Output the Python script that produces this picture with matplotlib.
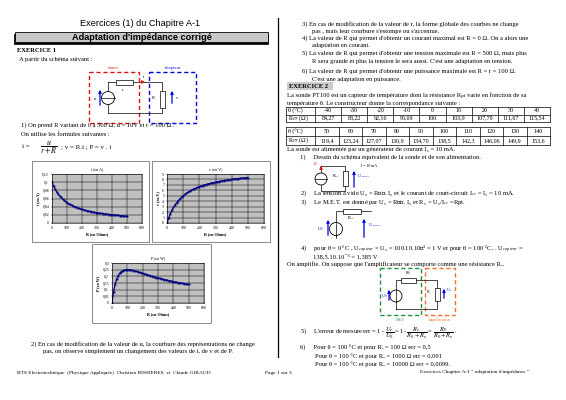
import numpy as np
import matplotlib.pyplot as plt
from matplotlib.patches import Rectangle, Circle

plt.rcParams['font.family'] = ['Liberation Serif', 'DejaVu Serif']
plt.rcParams['mathtext.fontset'] = 'stix'

# data (R step 10 ohms)
R_ohm = [0, 10, 20, 30, 40, 50, 60, 70, 80, 90, 100, 110, 120, 130, 140, 150, 160, 170, 180, 190,
         200, 210, 220, 230, 240, 250, 260, 270, 280, 290, 300, 310, 320, 330, 340, 350, 360, 370,
         380, 390, 400, 410, 420, 430, 440, 450, 460, 470, 480, 490, 500]
i_amp = [0.1, 0.0909, 0.0833, 0.0769, 0.0714, 0.0667, 0.0625, 0.0588, 0.0556, 0.0526, 0.05,
         0.0476, 0.0455, 0.0435, 0.0417, 0.04, 0.0385, 0.037, 0.0357, 0.0345, 0.0333, 0.0323,
         0.0313, 0.0303, 0.0294, 0.0286, 0.0278, 0.027, 0.0263, 0.0256, 0.025, 0.0244, 0.0238,
         0.0233, 0.0227, 0.0222, 0.0217, 0.0213, 0.0208, 0.0204, 0.02, 0.0196, 0.0192, 0.0189,
         0.0185, 0.0182, 0.0179, 0.0175, 0.0172, 0.0169, 0.0167]
v_volt = [0, 0.909, 1.667, 2.308, 2.857, 3.333, 3.75, 4.118, 4.444, 4.737, 5.0, 5.238, 5.455,
          5.652, 5.833, 6.0, 6.154, 6.296, 6.429, 6.552, 6.667, 6.774, 6.875, 6.97, 7.059, 7.143,
          7.222, 7.297, 7.368, 7.436, 7.5, 7.561, 7.619, 7.674, 7.727, 7.778, 7.826, 7.872, 7.917,
          7.959, 8.0, 8.039, 8.077, 8.113, 8.148, 8.182, 8.214, 8.246, 8.276, 8.305, 8.333]
p_watt = [0, 0.0826, 0.1389, 0.1775, 0.2041, 0.2222, 0.2344, 0.2422, 0.2469, 0.2493, 0.25,
          0.2494, 0.2479, 0.2457, 0.2431, 0.24, 0.2367, 0.2332, 0.2296, 0.2259, 0.2222, 0.2185,
          0.2148, 0.2112, 0.2076, 0.2041, 0.2006, 0.1972, 0.1939, 0.1907, 0.1875, 0.1844, 0.1814,
          0.1785, 0.1756, 0.1728, 0.1701, 0.1675, 0.1649, 0.1624, 0.16, 0.1576, 0.1553, 0.1531,
          0.1509, 0.1488, 0.1467, 0.1447, 0.1427, 0.1408, 0.1389]

# PT100 tables
theta1 = ['-40', '-30', '-20', '-10', '0', '10', '20', '30', '40']
rpt1 = ['84,27', '88,22', '92,16', '96,09', '100', '103,9', '107,79', '111,67', '115,54']
theta2 = ['50', '60', '70', '80', '90', '100', '110', '120', '130', '140']
rpt2 = ['119,4', '123,24', '127,07', '130,9', '134,70', '138,5', '142,3', '146,06', '149,9', '153,6']

W, H = 566, 400
fig = plt.figure(figsize=(5.66, 4), dpi=100)
ax = fig.add_axes([0, 0, 1, 1])
ax.set_xlim(0, W)
ax.set_ylim(H, 0)
ax.axis('off')

FS = 4.7
BLUE = '#0000dd'
RED = '#e01010'
GREEN = '#209040'
ORANGE = '#f07020'


def txt(x, y, s, size=FS, **kw):
    ax.text(x, y, s, fontsize=size, va='center', ha=kw.pop('ha', 'left'), **kw)


def resistor_h(x0, x1, y, h=5):
    ax.add_patch(Rectangle((x0, y - h / 2), x1 - x0, h, fc='white', ec='black', lw=0.5, zorder=3))


def resistor_v(x, y0, y1, w=5):
    ax.add_patch(Rectangle((x - w / 2, y0), w, y1 - y0, fc='white', ec='black', lw=0.5, zorder=3))


def wire(xs, ys):
    ax.plot(xs, ys, color='black', lw=0.5)


def arrow(x0, y0, x1, y1, color):
    ax.annotate('', xy=(x1, y1), xytext=(x0, y0),
                arrowprops=dict(arrowstyle='-|>', color=color, lw=0.9, mutation_scale=4))


def dbox(x0, y0, x1, y1, color):
    ax.add_patch(Rectangle((x0, y0), x1 - x0, y1 - y0, fill=False, ec=color, lw=1.0,
                           ls=(0, (3, 2))))


# ---- header ----
txt(140, 24, 'Exercices (1) du Chapitre A-1', size=6.6, ha='center', family='Liberation Sans')
ax.add_patch(Rectangle((13.5, 33.5), 254, 10, fc='black', ec='black', lw=0.5))
ax.add_patch(Rectangle((15, 32), 253, 10, fc='#c8c8c8', ec='black', lw=0.6))
txt(142, 37, "Adaptation d'impédance corrigé", size=6.6, ha='center',
    family='Liberation Sans', weight='bold')
ax.plot([278, 278], [18, 357], color='black', lw=0.9)

# ---- exercise 1 ----
txt(17, 50, 'EXERCICE 1', weight='bold')
txt(19, 59, 'A partir du schéma suivant :')

dbox(89, 72, 139, 123, RED)
dbox(149, 72, 196, 123, BLUE)
txt(113, 68, 'source', size=3.2, ha='center', color=RED)
txt(173, 68, 'récepteur', size=3.2, ha='center', color=BLUE)
wire([108, 108], [82, 113])
wire([108, 162, 162, 108], [82, 82, 113, 113])
ax.add_patch(Circle((108, 98), 6.5, fc='white', ec='black', lw=0.6, zorder=3))
ax.plot([101.5, 114.5], [98, 98], color='black', lw=0.5, zorder=4)
resistor_h(116, 133, 82)
txt(123, 90, 'r', size=3.2, ha='center')
resistor_v(162, 91, 108)
txt(153, 98, 'R', size=3.2, ha='center')
arrow(139, 82, 148, 82, RED)
txt(144, 77, 'i', size=3.2, ha='center', color='black')
arrow(100, 108, 100, 87, BLUE)
txt(95, 99, 'u', size=3.2, ha='center')
arrow(172, 106, 172, 88, BLUE)
txt(177, 98, 'v', size=3.2, ha='center')

txt(21, 125, '1) On prend R variant de 0 à 500 Ω, u = 10V et r = 100 Ω .')
txt(21, 134, 'On utilise les formules suivantes :')
txt(22, 147, 'i =', size=5.0)
txt(49, 147, r'$\dfrac{u}{r+R}$', size=5.8, ha='center')
txt(61, 147, '; v = R.i ; P = v . i', size=5.0)


def chart(frame, area, x, y, title, ylab, ylim, ystep, yfmt):
    fx0, fy0, fx1, fy1 = frame
    ax.add_patch(Rectangle((fx0, fy0), fx1 - fx0, fy1 - fy0, fc='white', ec='#777777', lw=0.6))
    x0, y0, x1, y1 = area
    c = fig.add_axes([x0 / W, 1 - y1 / H, (x1 - x0) / W, (y1 - y0) / H])
    c.set_facecolor('#c0c0c0')
    c.plot(x, y, color='#000080', lw=0.9, marker='s', ms=1.3, mew=0)
    c.set_xlim(0, 600)
    c.set_ylim(*ylim)
    c.set_xticks(np.arange(0, 601, 100))
    yt = np.arange(ylim[0], ylim[1] + ystep / 2, ystep)
    c.set_yticks(yt)
    c.set_yticklabels([yfmt(t) for t in yt])
    c.grid(True, color='black', lw=0.35)
    c.set_axisbelow(True)
    c.tick_params(labelsize=2.8, length=1, width=0.3, pad=1)
    for s in c.spines.values():
        s.set_linewidth(0.4)
    c.set_title(title, fontsize=3.0, pad=2.5)
    c.set_xlabel('R (en Ohms)', fontsize=3.0, labelpad=1.5, weight='bold')
    c.set_ylabel(ylab, fontsize=3.0, labelpad=1.5, weight='bold')
    return c


def comma(t):
    s = ('%g' % round(t, 3)).replace('.', ',')
    return s


chart((32, 161, 149, 242), (52, 174, 142, 223), R_ohm, i_amp, 'i (en A)', 'i (en A)',
      (0, 0.12), 0.02, comma)
chart((152, 161, 270, 242), (167, 174, 264, 223), R_ohm, v_volt, 'v (en V)', 'v (en V)',
      (0, 9), 1, comma)
chart((92, 244, 211, 323), (112, 263, 204, 303), R_ohm, p_watt, 'P (en W)', 'P (en W)',
      (0, 0.3), 0.05, comma)

txt(31, 344, '2) En cas de modification de la valeur de u, la courbure des représentations ne change')
txt(43, 352, 'pas, on observe simplement un changement des valeurs de i, de v et de P.')

# ---- right column: end of exercise 1 ----
rx, rc = 302, 312
txt(rx, 24, '3) En cas de modification de la valeur de r, la forme globale des courbes ne change')
txt(rc, 31, "pas , mais leur courbure s'estompe ou s'accentue.")
txt(rx, 38, "4) La valeur de R qui permet d'obtenir un courant maximal est R = 0 Ω. On a alors une")
txt(rc, 45, 'adaptation en courant.')
txt(rx, 53, "5) La valeur de R qui permet d'obtenir une tension maximale est R = 500 Ω, mais plus")
txt(rc, 61, "R sera grande et plus la tension le sera aussi. C'est une adaptation en tension.")
txt(rx, 71, "6) La valeur de R qui permet d'obtenir une puissance maximale est R = r = 100 Ω.")
txt(rc, 79, "C'est une adaptation en puissance.")

# ---- exercise 2 ----
ax.add_patch(Rectangle((287, 82), 46, 8, fc='#cccccc', ec='none'))
txt(289, 86, 'EXERCICE 2', weight='bold')
txt(287, 95, 'La sonde PT100 est un capteur de température dont la résistance Rₚₜ '
             'varie en fonction de sa')
txt(287, 103, 'température θ. Le constructeur donne la correspondance suivante :')


def table(y0, y1, heads, vals):
    xa, xb, xe = 286, 315, 550
    n = len(heads)
    cw = (xe - xb) / n
    ym = (y0 + y1) / 2
    for yy in (y0, ym, y1):
        ax.plot([xa, xe], [yy, yy], color='black', lw=0.5)
    xs = [xa, xb] + [xb + k * cw for k in range(1, n + 1)]
    for xx in xs:
        ax.plot([xx, xx], [y0, y1], color='black', lw=0.5)
    txt(xa + 2, (y0 + ym) / 2, 'θ (°C)', size=4.3)
    txt(xa + 2, (ym + y1) / 2, 'R$_{PT}$ (Ω)', size=4.3)
    for k in range(n):
        cx = xb + (k + 0.5) * cw
        txt(cx, (y0 + ym) / 2, heads[k], size=4.3, ha='center')
        txt(cx, (ym + y1) / 2, vals[k], size=4.3, ha='center')


table(107, 122, theta1, rpt1)
table(127, 145, theta2, rpt2)

txt(287, 149, 'La sonde est alimentée par un générateur de courant I₀ = 10 mA.')
txt(300, 157, '1)     Dessin du schéma équivalent de la sonde et de son alimentation.')

# current source + Rpt
wire([321, 345, 345, 321, 321], [166, 166, 191, 191, 166])
ax.add_patch(Circle((321, 179), 6, fc='white', ec='black', lw=0.6, zorder=3))
ax.plot([315, 327], [179, 179], color='black', lw=0.5, zorder=4)
resistor_v(345, 171, 186)
arrow(321, 171, 321, 163, RED)
txt(316, 164, 'I$_0$', size=3.2, color=RED, ha='center')
txt(336, 176, 'R$_{pt}$', size=3.2, ha='center')
arrow(354, 190, 354, 168, BLUE)
txt(357, 176, 'U$_{capteur}$', size=2.8, color=BLUE)
txt(361, 166, 'I = 10 mA', size=2.8)

txt(300, 193, '2)     La tension à vide U₀ = Rₚₜ. I₀ et le courant de court-circuit '
              'I$_{cc}$ = I₀ = 10 mA.')
txt(300, 202, '3)     Le M.E.T. est donné par U₀ = Rₚₜ. I₀ et R₀ = U₀/I$_{cc}$ =Rpt.')

# thevenin model
wire([336, 336, 371], [238, 211, 211])
ax.add_patch(Circle((336, 229), 6.5, fc='white', ec='black', lw=0.6, zorder=3))
ax.plot([336, 336], [222.5, 235.5], color='black', lw=0.5, zorder=4)
resistor_h(343, 361, 211)
txt(351, 218, 'R$_{pt}$', size=3.2, ha='center')
arrow(328, 238, 328, 217, BLUE)
txt(320, 229, 'U$_0$', size=3.2, color=BLUE, ha='center')
arrow(364, 240, 364, 216, BLUE)
txt(368, 225, 'U$_{capteur}$', size=2.8, color=BLUE)

txt(300, 248.5, '4)     pour θ = 0 °C , U$_{capteur}$ = U₀ = 100.10.10⁻³ = 1 V et pour '
                'θ = 100 °C, . U$_{capteur}$ =')
txt(313, 256.5, '138,5.10.10⁻³ = 1,385 V')
txt(287, 264, "On amplifie. On suppose que l'amplificateur se comporte comme une résistance Rₑ.")

# MET + amplifier
dbox(380, 268, 421, 315, GREEN)
dbox(425, 268, 455, 315, ORANGE)
wire([396, 396, 437, 437, 396], [309, 280, 280, 309, 309])
ax.add_patch(Circle((396, 296), 6, fc='white', ec='black', lw=0.6, zorder=3))
ax.plot([396, 396], [290, 302], color='black', lw=0.5, zorder=4)
resistor_h(401, 416, 280)
txt(408, 273, 'R$_0$', size=3.0, ha='center')
resistor_v(437, 288, 301)
txt(429, 292, 'R$_e$', size=3.0, ha='center')
arrow(389, 303, 389, 287, BLUE)
txt(384, 296, 'U$_0$', size=3.0, color=BLUE, ha='center')
arrow(444, 301, 444, 286, BLUE)
txt(449, 290, 'U$_e$', size=3.0, color=BLUE, ha='center')
txt(400, 320, 'MET', size=3.0, color=GREEN, ha='center')
txt(440, 320, 'Amplificateur', size=3.0, color=ORANGE, ha='center')

txt(300, 333, "5)     L'erreur de mesure err = 1 - $\\dfrac{U_e}{U_0}$ = 1- "
              "$\\dfrac{R_e}{R_0+R_e}$ = $\\dfrac{R_0}{R_0+R_e}$ .", size=4.6)
txt(300, 348, '6)     Pour θ = 100 °C et pour Rₑ = 100 Ω err = 0,5')
txt(315, 356, 'Pour θ = 100 °C et pour Rₑ = 1000 Ω err = 0,091')
txt(315, 364, 'Pour θ = 100 °C et pour Rₑ = 10000 Ω err = 0,0099.')

# ---- footer ----
txt(17, 373, 'BTS Electrotechnique  (Physique Appliquée)  Christian BISSIERES  et  Claude GIRAUD',
    size=3.9)
txt(265, 373, 'Page 1 sur 3', size=3.9)
txt(420, 372, 'Exercices Chapitre A-1 " adaptation d\'impédance "', size=3.9)

fig.savefig('out.png', dpi=100)
